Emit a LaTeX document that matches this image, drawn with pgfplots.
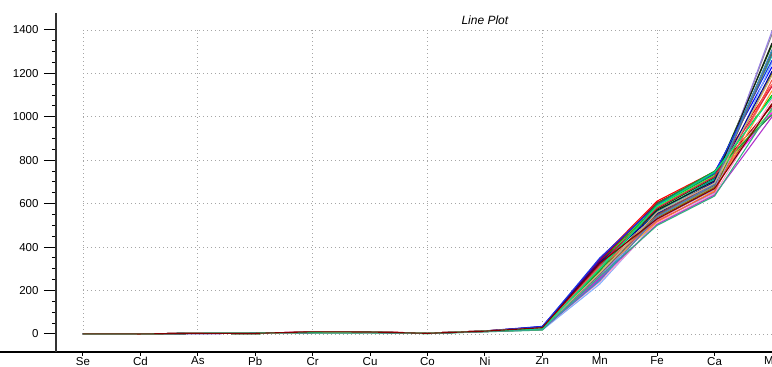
\documentclass[border=0pt]{standalone}
\usepackage{pgfplots}
\pgfplotsset{compat=1.18}
\usepackage{pgfplotstable}
\usepackage{fontspec}
\setmainfont{Liberation Sans}

\definecolor{c1}{rgb}{1,0,0}
\definecolor{c2}{rgb}{0,0,1}
\definecolor{c3}{rgb}{0,0.75,0}
\definecolor{c4}{rgb}{0,0.4,0}
\definecolor{c5}{rgb}{1,0,1}
\definecolor{c6}{rgb}{0,0.8,0.8}
\definecolor{c7}{rgb}{0.55,0.55,0.55}
\definecolor{c8}{rgb}{1,0.5,0.45}
\definecolor{c9}{rgb}{0.6,0.3,0.1}
\definecolor{c10}{rgb}{0.5,0.7,1}
\definecolor{c11}{rgb}{0.7,0,0.1}
\definecolor{c12}{rgb}{0.5,0.5,0}
\definecolor{c13}{rgb}{0.6,0.5,0.9}
\definecolor{c14}{rgb}{1,0.6,0.2}
\definecolor{c15}{rgb}{0,0.55,0.55}
\definecolor{c16}{rgb}{0.1,0.1,0.1}
\definecolor{c17}{rgb}{1,0.6,0.8}
\definecolor{c18}{rgb}{0.3,0.9,0.3}
\definecolor{c19}{rgb}{0,0,0.6}
\definecolor{c20}{rgb}{0.7,0.2,0.8}
\definecolor{c21}{rgb}{0.85,0.1,0.25}
\definecolor{c22}{rgb}{0.1,0.2,0.9}
\definecolor{c23}{rgb}{0.1,0.6,0.2}
\definecolor{c24}{rgb}{0.4,0.4,0.4}
\definecolor{c25}{rgb}{0.2,0.7,0.5}
\definecolor{c26}{rgb}{0.95,0.35,0.3}
\definecolor{c27}{rgb}{0.3,0.5,0.75}
\definecolor{c28}{rgb}{0.8,0.7,0.5}
\definecolor{c29}{rgb}{0,0.9,0.5}
\definecolor{c30}{rgb}{0.5,0,0}

% rows: Se Cd As Pb Cr Cu Co Ni Zn Mn Fe Ca Mg ; columns: samples
\pgfplotstableread{
x s1 s2 s3 s4 s5 s6 s7 s8 s9 s10 s11 s12 s13 s14 s15 s16 s17 s18 s19 s20 s21 s22 s23 s24 s25 s26 s27 s28 s29 s30
0 0.3 0.2 0.4 0.3 0.2 0.3 0.4 0.2 0.3 0.3 0.2 0.4 0.3 0.2 0.3 0.4 0.3 0.2 0.3 0.2 0.3 0.4 0.2 0.3 0.3 0.2 0.4 0.3 0.2 0.3
1 0.1 0.2 0.1 0.2 0.1 0.1 0.2 0.1 0.2 0.1 0.1 0.2 0.1 0.2 0.1 0.1 0.2 0.1 0.2 0.1 0.1 0.2 0.1 0.2 0.1 0.1 0.2 0.1 0.2 0.1
2 3 4 3 4 2 3 4 3 3 2 4 3 3 4 2 3 4 3 3 2 4 3 3 4 2 3 3 4 3 3
3 3 3 2 3 3 2 4 3 2 3 3 2 3 3 4 2 3 3 2 3 3 4 2 3 3 2 3 3 4 3
4 9 7 6 8 10 6 7 8 9 5 10 6 7 8 6 7 9 5 8 6 9 7 6 8 5 9 6 7 8 10
5 10 8 7 9 9 7 8 9 8 6 10 7 8 9 7 8 8 6 9 7 9 8 7 9 6 10 7 8 9 9
6 3 4 3 3 4 3 4 3 3 2 4 3 3 4 3 3 4 2 3 3 4 3 3 4 2 3 3 4 3 3
7 13 14 12 13 11 12 14 13 12 10 14 12 13 14 11 13 12 10 13 11 14 13 12 13 11 12 12 14 13 13
8 28 35 24 26 20 22 30 25 24 18 32 23 25 30 21 27 22 18 33 20 28 34 22 26 19 25 23 27 24 29
9 345 340 330 320 260 250 300 280 310 230 335 295 270 285 315 325 240 305 330 255 320 350 290 275 265 310 245 280 300 325
10 612 600 590 575 545 560 540 525 550 520 605 535 530 515 565 570 510 585 555 505 580 595 600 545 500 520 540 560 590 530
11 748 745 735 720 700 710 680 670 690 650 740 675 665 660 715 705 645 730 700 640 725 740 750 685 635 655 690 695 745 670
12 1150 1230 1100 1330 1020 1280 1380 1150 1060 1250 1050 1200 1395 1120 1300 1340 1080 1030 1210 1000 1140 1260 1010 1290 1040 1170 1310 1190 1090 1060
}\data

\begin{document}
\begin{tikzpicture}
\begin{axis}[
  scale only axis, width=772pt, height=339pt,
  xmin=-0.975, xmax=12.47, ymin=-83, ymax=1478,
  axis x line=bottom, axis y line=middle,
  x axis line style={black, line width=1.4pt, -},
  y axis line style={black!80, line width=2pt, -},
  xtick={0.47,1.47,2.47,3.47,4.47,5.47,6.47,7.47,8.47,9.47,10.47,11.47,12.47},
  xticklabels={Se,Cd,As,Pb,Cr,Cu,Co,Ni,Zn,Mn,Fe,Ca,Mg},
  minor xtick={0.47,1.47,2.47,3.47,4.47,5.47,6.47,7.47,8.47,9.47,10.47,11.47,12.47},
  every major x tick/.style={draw=none},
  ytick={0,200,400,600,800,1000,1200,1400},
  minor y tick num=3,
  tick align=outside, major tick length=12pt, minor tick length=4pt,
  every tick/.style={black, line width=1pt},
  tick label style={font=\fontsize{11.5}{13}\selectfont},
  /pgf/number format/assume math mode=true,
  /pgf/number format/set thousands separator={},
  yticklabel style={xshift=-2pt},
  xticklabel style={yshift=10.5pt},
  clip=true,
]
\pgfplotsinvokeforeach{0,200,400,600,800,1000,1200,1400}{
  \draw[gray!70, line width=0.7pt, dash pattern=on 0.8pt off 3.2pt] (axis cs:0.47,#1) -- (axis cs:12.47,#1);
}
\pgfplotsinvokeforeach{0.47,2.47,4.47,6.47,8.47,10.47}{
  \draw[gray!70, line width=0.7pt, dash pattern=on 0.8pt off 3.2pt] (axis cs:#1,0) -- (axis cs:#1,1400);
}
\pgfplotsinvokeforeach{1,...,30}{
  \addplot[c#1, line width=1.1pt, no markers] table[x expr=\thisrow{x}+0.47, y=s#1]{\data};
}
\node[font=\itshape\fontsize{12}{14}\selectfont] at (axis cs:7.47,1446) {Line Plot};
\end{axis}
\pgfresetboundingbox
\path[use as bounding box] ([yshift=-15pt]current axis.south west) rectangle ([yshift=13pt]current axis.north east);
\end{tikzpicture}
\end{document}
